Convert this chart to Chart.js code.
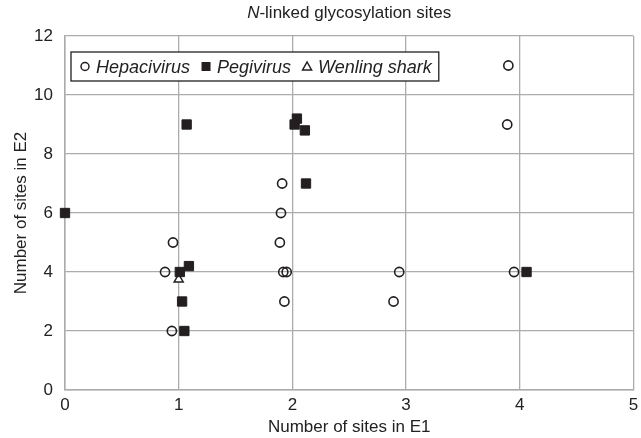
<!DOCTYPE html>
<html>
<head>
<meta charset="utf-8">
<script src="https://cdn.jsdelivr.net/npm/chart.js@4.4.0/dist/chart.umd.min.js"></script>
<style>
  html, body { margin: 0; padding: 0; background: #fff; }
  #wrap { width: 641px; height: 438px; position: relative; }
</style>
</head>
<body>
<div id="wrap"><canvas id="chart"></canvas></div>
<script>
// values (x = sites in E1, y = sites in E2)
const hepaX = [0.88, 0.95, 0.94, 1.91, 1.90, 1.89, 1.92, 1.95, 1.93, 2.94, 2.89, 3.90, 3.89, 3.95];
const hepaY = [4, 5, 2, 7, 6, 5, 4, 4, 3, 4, 3, 11, 9, 4];
const pegiX = [0, 1.07, 1.01, 1.09, 1.03, 1.05, 2.04, 2.02, 2.11, 2.12, 4.06];
const pegiY = [6, 9, 4, 4.2, 3, 2, 9.2, 9, 8.8, 7, 4];
const sharkX = [1.0];
const sharkY = [3.75];

const seriesNames = ['Hepacivirus', 'Pegivirus', 'Wenling shark'];
const xTicks = [0, 1, 2, 3, 4, 5];
const yTicks = [0, 2, 4, 6, 8, 10, 12];

const ink = '#231f20';
const gridCol = '#acacac';
const FONT = '"Liberation Sans", Arial, sans-serif';

const pts = (xs, ys) => xs.map((x, i) => ({ x, y: ys[i] }));

// title with italic N
const titlePlugin = {
  id: 'mixedTitle',
  afterDraw(chart) {
    const { ctx, chartArea: a } = chart;
    ctx.save();
    ctx.fillStyle = '#222';
    ctx.textBaseline = 'middle';
    const f1 = 'italic 17px ' + FONT, f2 = '17px ' + FONT;
    ctx.font = f1; const w1 = ctx.measureText('N').width;
    ctx.font = f2; const w2 = ctx.measureText('-linked glycosylation sites').width;
    let x = (a.left + a.right) / 2 - (w1 + w2) / 2;
    ctx.font = f1; ctx.fillText('N', x, 13);
    ctx.font = f2; ctx.fillText('-linked glycosylation sites', x + w1, 13);
    ctx.restore();
  }
};

// boxed legend inside the plot area
const legendPlugin = {
  id: 'boxLegend',
  afterDraw(chart) {
    const { ctx, chartArea: a } = chart;
    const left = a.left + 6, top = a.top + 16, h = 29, cy = top + h / 2;
    ctx.save();
    ctx.font = 'italic 18px ' + FONT;
    let cx = left + 14;
    const items = [];
    seriesNames.forEach((name, i) => {
      const tw = ctx.measureText(name).width;
      items.push({ name, cx, tx: cx + 11 });
      cx = cx + 11 + tw + 16;
    });
    const right = cx - 16 + 7;
    ctx.fillStyle = '#fff';
    ctx.fillRect(left, top, right - left, h);
    ctx.strokeStyle = ink; ctx.lineWidth = 1.3;
    ctx.strokeRect(left, top, right - left, h);

    items.forEach((it, i) => {
      ctx.strokeStyle = ink; ctx.fillStyle = ink; ctx.lineWidth = 1.5;
      ctx.beginPath();
      if (i === 0) {
        ctx.arc(it.cx, cy, 4, 0, Math.PI * 2); ctx.stroke();
      } else if (i === 1) {
        ctx.fillRect(it.cx - 4.5, cy - 4.5, 9, 9);
      } else {
        ctx.moveTo(it.cx, cy - 4.5); ctx.lineTo(it.cx + 4.5, cy + 3.5); ctx.lineTo(it.cx - 4.5, cy + 3.5);
        ctx.closePath(); ctx.stroke();
      }
      ctx.fillStyle = '#222';
      ctx.textBaseline = 'middle';
      ctx.fillText(it.name, it.tx, cy + 1);
    });
    ctx.restore();
  }
};

new Chart(document.getElementById('chart'), {
  type: 'scatter',
  data: {
    datasets: [
      { label: seriesNames[0], data: pts(hepaX, hepaY), order: 2, pointStyle: 'circle',
        pointRadius: 4.6, borderWidth: 1.6, borderColor: ink, backgroundColor: 'rgba(0,0,0,0)', clip: false },
      { label: seriesNames[1], data: pts(pegiX, pegiY), order: 0, pointStyle: 'rect',
        pointRadius: 6.6, borderWidth: 1, borderColor: ink, backgroundColor: ink, clip: false },
      { label: seriesNames[2], data: pts(sharkX, sharkY), order: 1, pointStyle: 'triangle',
        pointRadius: 5.2, borderWidth: 1.5, borderColor: ink, backgroundColor: '#fff', clip: false }
    ]
  },
  options: {
    responsive: true,
    maintainAspectRatio: false,
    animation: false,
    layout: { padding: { top: 36, right: 4, bottom: 0, left: 11 } },
    plugins: {
      legend: { display: false },
      title: { display: false },
      tooltip: { enabled: false }
    },
    scales: {
      x: {
        type: 'linear', min: 0, max: 5,
        afterFit: s => { s.height = 48; s.paddingLeft = 0; s.paddingRight = 0; },
        afterBuildTicks: s => { s.ticks = xTicks.map(v => ({ value: v })); },
        grid: { color: gridCol, lineWidth: 1.3, drawTicks: false },
        border: { color: gridCol, width: 1.5 },
        ticks: { color: '#222', font: { family: FONT, size: 17 }, padding: 5 },
        title: { display: true, text: 'Number of sites in E1', color: '#222',
                 font: { family: FONT, size: 17 }, padding: { top: 0, bottom: 0 } }
      },
      y: {
        type: 'linear', min: 0, max: 12,
        afterFit: s => { s.width = 54; },
        afterBuildTicks: s => { s.ticks = yTicks.map(v => ({ value: v })); },
        grid: { color: gridCol, lineWidth: 1.3, drawTicks: false },
        border: { color: gridCol, width: 1.5 },
        ticks: { color: '#222', font: { family: FONT, size: 17 }, padding: 12 },
        title: { display: true, text: 'Number of sites in E2', color: '#222',
                 font: { family: FONT, size: 17 }, padding: { top: 0, bottom: 0 } }
      }
    }
  },
  plugins: [titlePlugin, legendPlugin]
});
</script>
</body>
</html>
